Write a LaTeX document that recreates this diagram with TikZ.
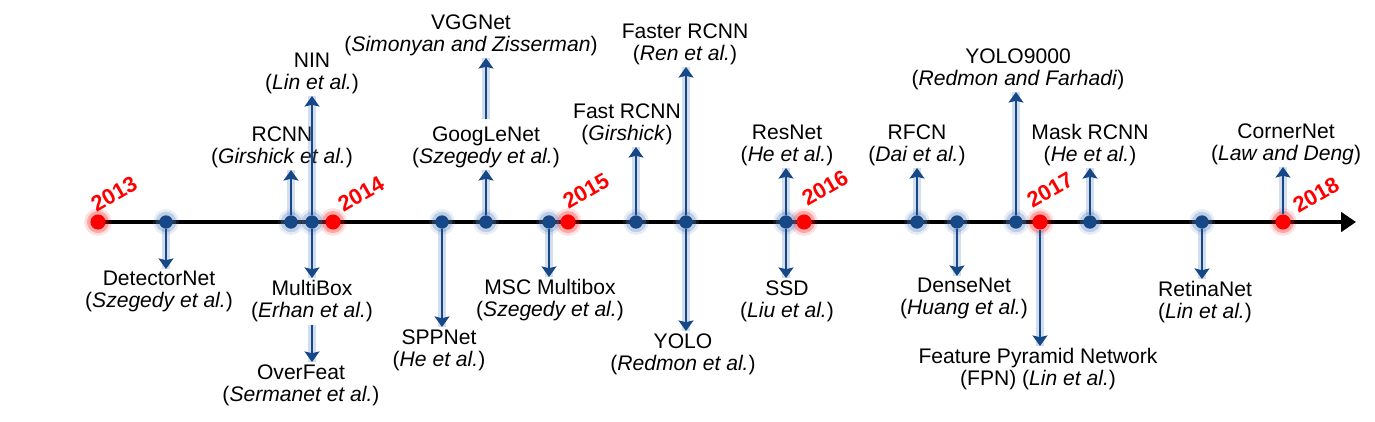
\documentclass[tikz,border=0pt]{standalone}
\usepackage{fontspec}
\setmainfont{Liberation Sans}
\usetikzlibrary{arrows.meta}
\definecolor{tlblue}{RGB}{22,72,135}
\definecolor{tlglow}{RGB}{95,135,195}
\definecolor{tlred}{RGB}{255,0,0}
\tikzset{
  evt/.style={circle,fill=tlblue,inner sep=0pt,minimum size=7.6pt,
    preaction={draw=tlglow,line width=7pt,draw opacity=.15},
    preaction={draw=tlglow,line width=4pt,draw opacity=.3}},
  yr/.style={circle,fill=tlred,inner sep=0pt,minimum size=8.6pt,
    preaction={draw=tlred,line width=7pt,draw opacity=.12},
    preaction={draw=tlred,line width=4pt,draw opacity=.25}},
  yrlbl/.style={text=tlred,font=\fontsize{12.5}{12.5}\selectfont\bfseries,rotate=30,inner sep=0pt},
  lbl/.style={align=center,inner sep=1.2pt,font=\fontsize{12}{12.5}\selectfont},
  up/.style={lbl,anchor=south},
  dn/.style={lbl,anchor=north},
  tl/.style={draw=tlblue,line width=1.1pt,-{Stealth[length=6pt,width=8.5pt,inset=1pt]},
    preaction={draw=tlglow,-,line width=5pt,draw opacity=.28}},
  axis/.style={draw=black,line width=2pt,-{Triangle[length=8.5pt,width=11pt]}}
}
\begin{document}
\begin{tikzpicture}[x=0.02cm,y=-0.02cm]
  \useasboundingbox (0,0) rectangle (1375,422);
  % axis
  \coordinate (tStart) at (98,222);
  \coordinate (tEnd) at (1356,222);
  \draw[axis] (tStart) -- (tEnd);
  % years
  \node[yr] (y13) at (98,222) {};
  \node[yr] (y14) at (333,222) {};
  \node[yr] (y15) at (568,222) {};
  \node[yr] (y16) at (804,222) {};
  \node[yr] (y17) at (1040,222) {};
  \node[yr] (y18) at (1283,222) {};
  \node[yrlbl] (l13) at (114,194) {2013};
  \node[yrlbl] (l14) at (361,194) {2014};
  \node[yrlbl] (l15) at (586,191) {2015};
  \node[yrlbl] (l16) at (825,188) {2016};
  \node[yrlbl] (l17) at (1050,190) {2017};
  \node[yrlbl] (l18) at (1316,195) {2018};
  % events on the line
  \node[evt] (dDet) at (166,222) {};
  \node[evt] (dRC) at (291,222) {};
  \node[evt] (dNIN) at (312,222) {};
  \node[evt] (dSPP) at (442,222) {};
  \node[evt] (dGoog) at (486,222) {};
  \node[evt] (dMSC) at (549,222) {};
  \node[evt] (dFast) at (636,222) {};
  \node[evt] (dFaster) at (686,222) {};
  \node[evt] (dRes) at (786,222) {};
  \node[evt] (dRF) at (917,222) {};
  \node[evt] (dDense) at (957,222) {};
  \node[evt] (dY9k) at (1016,222) {};
  \node[evt] (dMask) at (1090,222) {};
  \node[evt] (dRet) at (1202,222) {};
  % labels above
  \node[up] (nRC) at (282,170) {RCNN\\(\textit{Girshick et al.})};
  \node[up] (nNIN) at (312,96) {NIN\\(\textit{Lin et al.})};
  \node[up] (nGoog) at (486,170) {GoogLeNet\\(\textit{Szegedy et al.})};
  \node[up] (nVGG) at (471,58) {VGGNet\\(\textit{Simonyan and Zisserman})};
  \node[up] (nFast) at (627,147) {Fast RCNN\\(\textit{Girshick})};
  \node[up] (nFaster) at (685,67) {Faster RCNN\\(\textit{Ren et al.})};
  \node[up] (nRes) at (787,168) {ResNet\\(\textit{He et al.})};
  \node[up] (nRF) at (917,168) {RFCN\\(\textit{Dai et al.})};
  \node[up] (nY9k) at (1018,92) {YOLO9000\\(\textit{Redmon and Farhadi})};
  \node[up] (nMask) at (1090,168) {Mask RCNN\\(\textit{He et al.})};
  \node[up] (nCorner) at (1286,167) {CornerNet\\(\textit{Law and Deng})};
  % labels below
  \node[dn] (nDet) at (159,269) {DetectorNet\\(\textit{Szegedy et al.})};
  \node[dn] (nMB) at (312,278) {MultiBox\\(\textit{Erhan et al.})};
  \node[dn] (nOF) at (301,362) {OverFeat\\(\textit{Sermanet et al.})};
  \node[dn] (nSPP) at (439,327) {SPPNet\\(\textit{He et al.})};
  \node[dn] (nMSC) at (550,277) {MSC Multibox\\(\textit{Szegedy et al.})};
  \node[dn] (nYOLO) at (683,331) {YOLO\\(\textit{Redmon et al.})};
  \node[dn] (nSSD) at (787,278) {SSD\\(\textit{Liu et al.})};
  \node[dn] (nDense) at (964,276) {DenseNet\\(\textit{Huang et al.})};
  \node[dn] (nFPN) at (1038,346) {Feature Pyramid Network\\(FPN) (\textit{Lin et al.})};
  \node[dn] (nRet) at (1205,279) {RetinaNet\\(\textit{Lin et al.})};
  % arrows
  \draw[tl] (dRC) -- (dRC |- nRC.south);
  \draw[tl] (dNIN) -- (dNIN |- nNIN.south);
  \draw[tl] (dGoog) -- (dGoog |- nGoog.south);
  \draw[tl,shorten <=3pt] (nGoog.north) -- (nGoog.north |- nVGG.south);
  \draw[tl] (dFast) -- (dFast |- nFast.south);
  \draw[tl] (dFaster) -- (dFaster |- nFaster.south);
  \draw[tl] (dRes) -- (dRes |- nRes.south);
  \draw[tl] (dRF) -- (dRF |- nRF.south);
  \draw[tl] (dY9k) -- (dY9k |- nY9k.south);
  \draw[tl] (dMask) -- (dMask |- nMask.south);
  \draw[tl] (y18) -- (y18 |- nCorner.south);
  \draw[tl] (dDet) -- (dDet |- nDet.north);
  \draw[tl] (dNIN) -- (dNIN |- nMB.north);
  \draw[tl] (nMB.south) -- (nMB.south |- nOF.north);
  \draw[tl] (dSPP) -- (dSPP |- nSPP.north);
  \draw[tl] (dMSC) -- (dMSC |- nMSC.north);
  \draw[tl] (dFaster) -- (dFaster |- nYOLO.north);
  \draw[tl] (dRes) -- (dRes |- nSSD.north);
  \draw[tl] (dDense) -- (dDense |- nDense.north);
  \draw[tl] (y17) -- (y17 |- nFPN.north);
  \draw[tl] (dRet) -- (dRet |- nRet.north);
\end{tikzpicture}
\end{document}
